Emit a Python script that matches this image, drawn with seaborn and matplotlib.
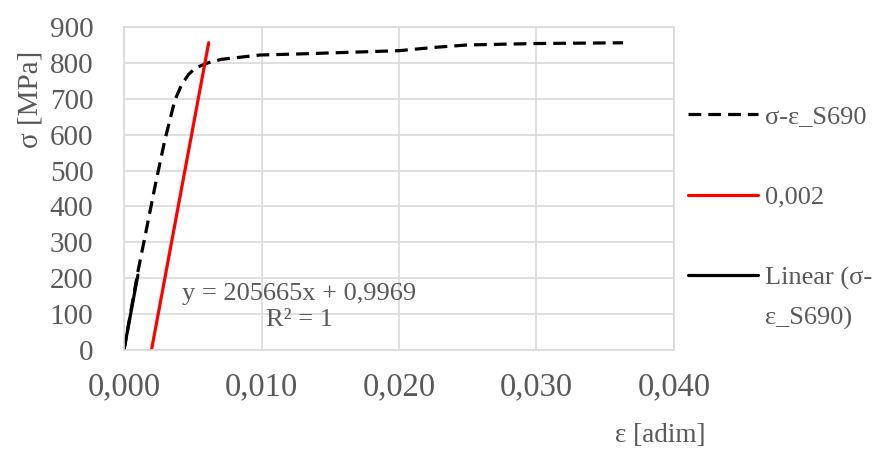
import numpy as np
import pandas as pd
import matplotlib
matplotlib.use("Agg")
import matplotlib.pyplot as plt
import seaborn as sns

# stress-strain curve S690
eps_curve = [0.0, 0.00101, 0.00152, 0.00225, 0.00297, 0.0037, 0.0042, 0.0047, 0.0052,
             0.0061, 0.0071, 0.0099, 0.0128, 0.0200, 0.0225, 0.0250, 0.0300, 0.0363]
sig_curve = [0, 218, 315, 455, 585, 696, 740, 768, 786,
             800, 810, 822, 825, 834, 843, 850, 854, 856]

# 0,2% offset line
eps_offset = [0.002, 0.00616]
sig_offset = [0, 856]

# linear trendline on the elastic part
eps_lin = [0.0, 0.00101]
sig_lin = [0.9969, 208.7]

x_ticks = [0.0, 0.01, 0.02, 0.03, 0.04]
x_labels = ["0,000", "0,010", "0,020", "0,030", "0,040"]
y_ticks = list(range(0, 901, 100))

GRID = "#d9d9d9"
TXT = "#595959"

sns.set_theme(style="white")
plt.rcParams["font.family"] = ["Liberation Serif", "DejaVu Serif"]

fig = plt.figure(figsize=(8.73, 4.55), dpi=100)
ax = fig.add_axes([124 / 873, 1 - 350 / 455, 550 / 873, 323 / 455])

sns.lineplot(x=eps_curve, y=sig_curve, ax=ax, color="black", lw=2.3,
             linestyle=(0, (4, 2.2)), estimator=None, sort=False, label="σ-ε_S690")
sns.lineplot(x=eps_offset, y=sig_offset, ax=ax, color="#ff0000", lw=2.3,
             estimator=None, sort=False, label="0,002")
sns.lineplot(x=eps_lin, y=sig_lin, ax=ax, color="black", lw=2.3,
             estimator=None, sort=False, label="Linear (σ-")

ax.set_xlim(0, 0.04)
ax.set_ylim(0, 900)
ax.set_xticks(x_ticks)
ax.set_xticklabels(x_labels)
ax.set_yticks(y_ticks)
ax.grid(True, color=GRID, lw=1.2)
for s in ax.spines.values():
    s.set_color(GRID)
    s.set_linewidth(1.2)
ax.tick_params(axis="both", length=0, colors=TXT)
ax.tick_params(axis="x", pad=16, labelsize=23.5)
ax.tick_params(axis="y", pad=22, labelsize=21)
ax.set_xlabel("")
ax.set_ylabel("")

fig.text(31 / 873, 1 - 99 / 455, "σ [MPa]", rotation=90, ha="center", va="center",
         fontsize=21, color=TXT)
fig.text(660 / 873, 1 - 435 / 455, "ε [adim]", ha="center", va="center",
         fontsize=19.5, color=TXT)

ax.text(0.01275, 120, "y = 205665x + 0,9969\nR² = 1", ha="center", va="center",
        fontsize=19, color=TXT, linespacing=1.25)

leg = ax.legend(loc="upper left", bbox_to_anchor=(688 / 873, 1 - 105 / 455),
                bbox_transform=fig.transFigure, frameon=False, fontsize=19,
                handlelength=2.65, handletextpad=0.27, labelspacing=2.16,
                borderpad=0, borderaxespad=0, labelcolor=TXT)
fig.text(765 / 873, 1 - 318 / 455, "ε_S690)", ha="left", va="center",
         fontsize=19, color=TXT)

fig.savefig("out.png", dpi=100)
